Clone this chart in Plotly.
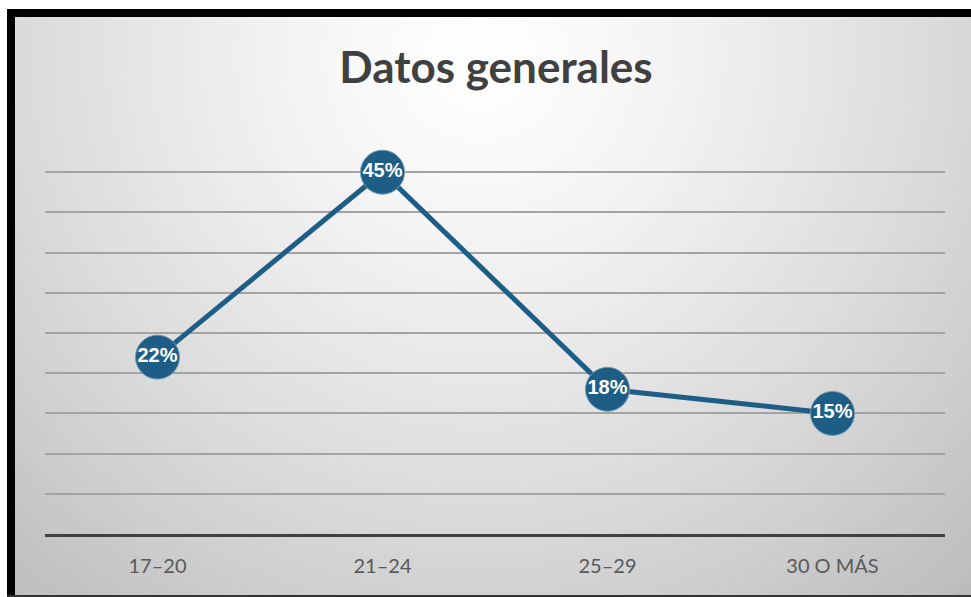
import plotly.graph_objects as go

categories = ["17–20", "21–24", "25–29", "30 O MÁS"]
values = [22, 45, 18, 15]
labels = ["22%", "45%", "18%", "15%"]

W, H = 971, 597
ML, MR, MT, MB = 45, 26, 132, 63
PW = W - ML - MR
PH = H - MT - MB


def px_x(p):
    return (p - ML) / PW


def px_y(p):
    return (H - MB - p) / PH


shapes = []
# radial gradient background built from concentric circles
cx, cy = 480, 55
N = 90
Rmax = 840
R0 = 757
for i in range(N):
    r = Rmax * (1 - i / N)
    t = r / R0
    g = int(round(max(178, 255 - 70 * (t ** 1.3))))
    col = f"rgb({g},{g},{g})"
    shapes.append(dict(type="circle", xref="paper", yref="paper",
                       x0=px_x(cx - r), x1=px_x(cx + r),
                       y0=px_y(cy + r), y1=px_y(cy - r),
                       fillcolor=col, line=dict(width=0), layer="below"))

# white outside the frame
shapes.append(dict(type="rect", xref="paper", yref="paper",
                   x0=px_x(-50), x1=px_x(W + 50), y0=px_y(9), y1=px_y(-50),
                   fillcolor="white", line=dict(width=0), layer="below"))
shapes.append(dict(type="rect", xref="paper", yref="paper",
                   x0=px_x(-50), x1=px_x(7), y0=px_y(H + 50), y1=px_y(-50),
                   fillcolor="white", line=dict(width=0), layer="below"))
# black frame
shapes.append(dict(type="rect", xref="paper", yref="paper",
                   x0=px_x(7), x1=px_x(W + 50), y0=px_y(17), y1=px_y(9),
                   fillcolor="black", line=dict(width=0), layer="below"))
shapes.append(dict(type="rect", xref="paper", yref="paper",
                   x0=px_x(7), x1=px_x(15), y0=px_y(H + 50), y1=px_y(9),
                   fillcolor="black", line=dict(width=0), layer="below"))
shapes.append(dict(type="rect", xref="paper", yref="paper",
                   x0=px_x(7), x1=px_x(W + 50), y0=px_y(H + 50), y1=px_y(595),
                   fillcolor="#333333", line=dict(width=0), layer="below"))

fig = go.Figure()
fig.add_trace(go.Scatter(
    x=categories, y=values, mode="lines+markers+text",
    text=labels, textposition="middle center",
    textfont=dict(family="Liberation Sans, Arial, sans-serif", size=20, color="white", weight="bold"),
    line=dict(color="#1e5e86", width=5),
    marker=dict(size=44, color="#1e5e86", line=dict(width=1, color="#6f9ab3")),
    cliponaxis=False, hoverinfo="skip", showlegend=False,
))

fig.update_layout(
    width=W, height=H,
    margin=dict(l=ML, r=MR, t=MT, b=MB),
    paper_bgcolor="white",
    plot_bgcolor="rgba(0,0,0,0)",
    shapes=shapes,
    title=dict(text="<b>Datos generales</b>", x=496 / W, xanchor="center",
               y=1 - 68 / H, yanchor="middle", yref="container", xref="container",
               font=dict(family="Lato, Noto Sans, sans-serif", size=44, color="#404040")),
    xaxis=dict(type="category", range=[-0.5, 3.5], showgrid=False,
               showline=True, linecolor="#404040", linewidth=3,
               ticks="outside", ticklen=12, tickcolor="rgba(0,0,0,0)",
               tickfont=dict(family="Lato, Noto Sans, sans-serif", size=20, color="#595959"),
               fixedrange=True),
    yaxis=dict(range=[0, 50], dtick=5, showgrid=True, gridcolor="#a3a3a3", gridwidth=1.5,
               showticklabels=False, zeroline=False, ticks="", fixedrange=True),
)

fig.write_html("out.html", config={"displayModeBar": False},
               post_script="document.body.style.margin='0';document.body.style.overflow='hidden';")
